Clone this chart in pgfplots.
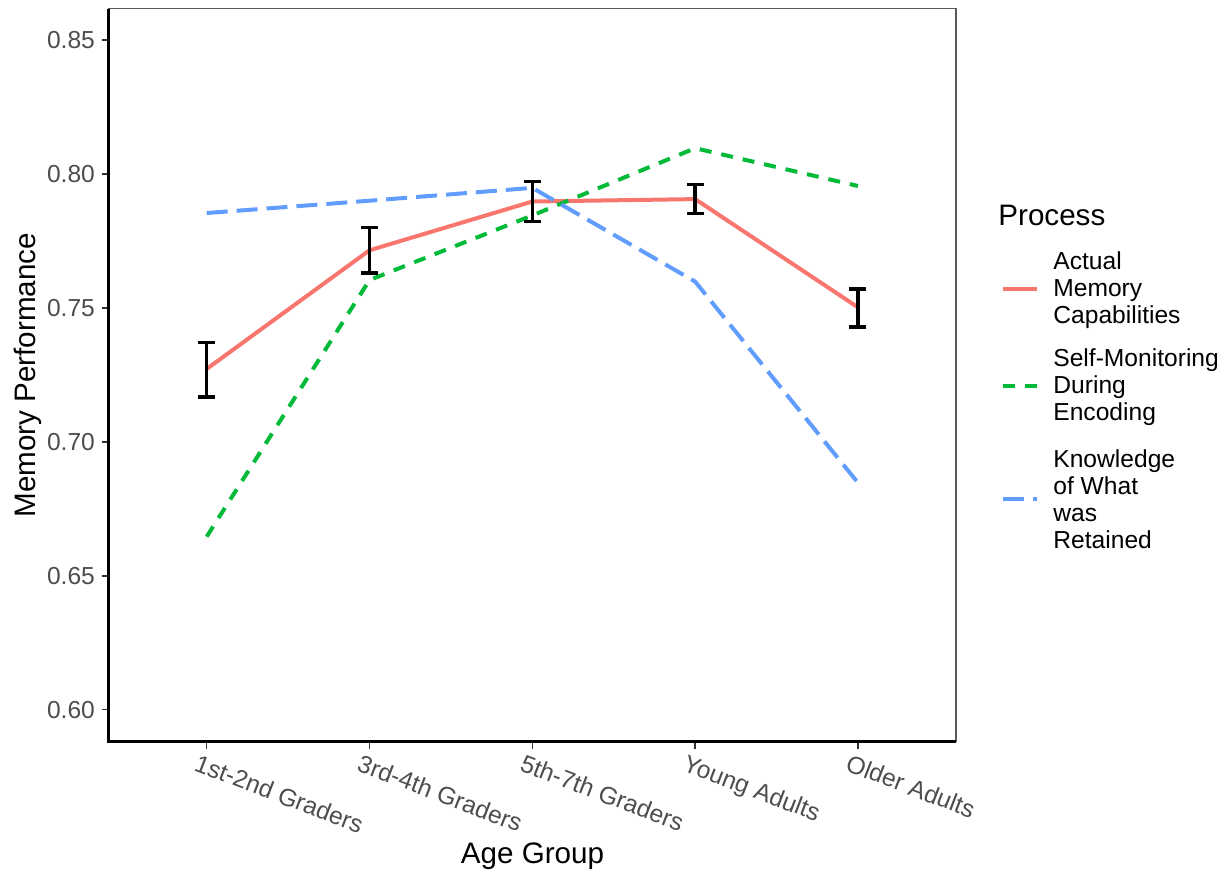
\documentclass[border=0pt]{standalone}
\usepackage{fontspec}
\setmainfont{Liberation Sans}
\usepackage{pgfplots}
\pgfplotsset{compat=1.18}
\definecolor{cRed}{HTML}{F8766D}
\definecolor{cGreen}{HTML}{00BA38}
\definecolor{cBlue}{HTML}{619CFF}
\definecolor{tickgray}{HTML}{4D4D4D}
\definecolor{tickcol}{HTML}{333333}
\begin{document}
\begin{tikzpicture}
\useasboundingbox (-54.5pt,-65.5pt) rectangle (559.5pt,370.85pt);
\begin{axis}[
  at={(0pt,0pt)}, anchor=south west,
  scale only axis, width=423.5pt, height=366.5pt,
  xmin=-0.6, xmax=4.602, ymin=0.58806, ymax=0.86168,
  clip=false,
  xtick={0,1,2,3,4},
  xticklabels={1st-2nd Graders,3rd-4th Graders,5th-7th Graders,Young Adults,Older Adults},
  ytick={0.6,0.65,0.7,0.75,0.8,0.85},
  scaled y ticks=false,
  yticklabel style={/pgf/number format/fixed, /pgf/number format/fixed zerofill, /pgf/number format/precision=2},
  /pgf/number format/assume math mode=true,
  tick label style={font=\fontsize{12.3}{14}\selectfont, text=tickgray},
  xticklabel style={rotate=-21, anchor=north west, xshift=-6pt},
  tick align=outside, tick pos=left, major tick length=3.5pt,
  every tick/.style={tickcol, line width=0.75pt},
  axis line style={draw=gray!70!black, line width=0.75pt},
  xlabel={Age Group},
  xlabel style={at={([yshift=-57.5pt]axis description cs:0.5,0)}, anchor=center, font=\fontsize{14.8}{16}\selectfont},
  ylabel={Memory Performance},
  ylabel style={at={([xshift=-40.5pt]axis description cs:0,0.5)}, anchor=center, font=\fontsize{14.8}{16}\selectfont},
  legend cell align=left,
  legend image code/.code={\draw[#1, line cap=butt] (0pt,0pt) -- (17pt,0pt);},
  legend style={draw=none, fill=none, at={([xshift=22.5pt,yshift=170pt]axis description cs:1,0)}, anchor=west,
    inner sep=0pt, row sep=11pt, column sep=7pt,
    font=\fontsize{12.3}{13.5}\selectfont, cells={align=left}, nodes={inner sep=0pt}},
]
\addplot[cRed, line width=2pt] coordinates {(0,0.7272)(1,0.7715)(2,0.7897)(3,0.7906)(4,0.7502)};
\addlegendentry{Actual\\Memory\\Capabilities}
\addplot[cGreen, line width=2pt, dash pattern=on 6pt off 5pt] coordinates {(0,0.6646)(1,0.7604)(2,0.7845)(3,0.8096)(4,0.7955)};
\addlegendentry{Self-Monitoring\\During\\Encoding}
\addplot[cBlue, line width=2pt, dash pattern=on 10.5pt off 4.5pt] coordinates {(0,0.7854)(1,0.7900)(2,0.7948)(3,0.7598)(4,0.6847)};
\addlegendentry{\rule{0pt}{11pt}Knowledge\\of What\\was\\Retained}
\addplot[draw=none, no markers, forget plot,
  error bars/.cd, y dir=both, y explicit,
  error bar style={draw=black, solid, line width=1.8pt},
  error mark options={draw=black, solid, rotate=90, mark size=4.25pt, line width=1.8pt}]
  coordinates {(0,0.7269) +- (0,0.0102) (1,0.7715) +- (0,0.0085) (2,0.7897) +- (0,0.0075) (3,0.7907) +- (0,0.0054) (4,0.7499) +- (0,0.0071)};
\draw[black, line width=1.5pt] (rel axis cs:0,1) -- (rel axis cs:0,0) -- (rel axis cs:1,0);
\node[anchor=west, inner sep=0pt, font=\fontsize{14.8}{16}\selectfont] at ([xshift=21pt,yshift=263pt]axis description cs:1,0) {Process};
\end{axis}
\end{tikzpicture}
\end{document}
